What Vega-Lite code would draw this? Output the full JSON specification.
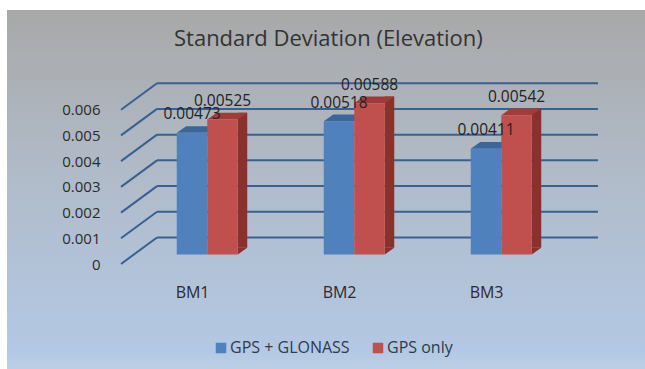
{
  "$schema": "https://vega.github.io/schema/vega-lite/v6.json",
  "width": 441,
  "height": 180,
  "autosize": "none",
  "padding": {"left": 121, "top": 84, "right": 83, "bottom": 105},
  "background": "#ffffff",
  "title": {
    "text": "Standard Deviation (Elevation)",
    "font": "Open Sans",
    "fontSize": 22,
    "fontWeight": "normal",
    "color": "#333333",
    "anchor": "start",
    "frame": "group",
    "dx": 53,
    "offset": -41,
    "zindex": 1
  },
  "datasets": {
    "bars": [
      {"site": "BM1", "series": "GPS + GLONASS", "sd": 0.00473},
      {"site": "BM1", "series": "GPS only", "sd": 0.00525},
      {"site": "BM2", "series": "GPS + GLONASS", "sd": 0.00518},
      {"site": "BM2", "series": "GPS only", "sd": 0.00588},
      {"site": "BM3", "series": "GPS + GLONASS", "sd": 0.00411},
      {"site": "BM3", "series": "GPS only", "sd": 0.00542}
    ],
    "levels": [
      {"level": 0},
      {"level": 0.001},
      {"level": 0.002},
      {"level": 0.003},
      {"level": 0.004},
      {"level": 0.005},
      {"level": 0.006}
    ]
  },
  "encoding": {
    "y": {
      "field": "sd", "type": "quantitative",
      "scale": {"domain": [0, 0.007]},
      "axis": {
        "values": [0, 0.001, 0.002, 0.003, 0.004, 0.005, 0.006],
        "format": "~g",
        "grid": false, "domain": false, "ticks": false,
        "title": null, "zindex": 1, "labelOverlap": false,
        "labelFont": "Open Sans", "labelFontSize": 15, "labelColor": "#2b2b2b", "labelPadding": 21
      }
    }
  },
  "layer": [
    {
      "data": {"values": [{"panel": 1}]},
      "mark": {
        "type": "rect",
        "color": {
          "gradient": "linear",
          "x1": 0, "y1": 0, "x2": 0, "y2": 1,
          "stops": [
            {"offset": 0, "color": "#a8a8a8"},
            {"offset": 0.45, "color": "#b0bbc8"},
            {"offset": 0.95, "color": "#b3c8e4"},
            {"offset": 1, "color": "#bccfe6"}
          ]
        }
      },
      "encoding": {
        "x": {"value": -114},
        "x2": {"value": 524},
        "y": {"value": -74},
        "y2": {"value": 285}
      }
    },
    {
      "data": {"name": "levels"},
      "mark": {"type": "rule", "color": "#3a6090", "strokeWidth": 2, "yOffset": -26.5, "y2Offset": -26.5},
      "encoding": {
        "x": {"value": 36},
        "x2": {"value": 477},
        "y": {
          "field": "level", "type": "quantitative",
          "axis": {
            "values": [0, 0.001, 0.002, 0.003, 0.004, 0.005, 0.006],
            "format": "~g",
            "grid": false, "domain": false, "ticks": false,
            "title": null, "zindex": 1, "labelOverlap": false,
            "labelFont": "Open Sans", "labelFontSize": 15, "labelColor": "#2b2b2b", "labelPadding": 21
          }
        }
      }
    },
    {
      "data": {"name": "levels"},
      "mark": {"type": "rule", "color": "#3a6090", "strokeWidth": 2, "y2Offset": -26.5},
      "encoding": {
        "x": {"value": 0},
        "x2": {"value": 36},
        "y": {
          "field": "level", "type": "quantitative",
          "axis": {
            "values": [0, 0.001, 0.002, 0.003, 0.004, 0.005, 0.006],
            "format": "~g",
            "grid": false, "domain": false, "ticks": false,
            "title": null, "zindex": 1, "labelOverlap": false,
            "labelFont": "Open Sans", "labelFontSize": 15, "labelColor": "#2b2b2b", "labelPadding": 21
          }
        },
        "y2": {"field": "level"}
      }
    },
    {
      "data": {"name": "bars"},
      "layer": [
        {
          "transform": [{"filter": "datum.series === 'GPS only'"}],
          "mark": {"type": "bar", "width": 9.5, "color": "#8a302d", "yOffset": -16.2, "y2Offset": -16.2},
          "encoding": {
            "x": {"field": "site", "type": "nominal"},
            "xOffset": {"value": 121.5},
            "y2": {"datum": 0}
          }
        },
        {
          "transform": [{"filter": "datum.series === 'GPS only'"}],
          "mark": {
            "type": "point", "filled": true, "opacity": 1, "size": 3721, "color": "#8a302d", "strokeWidth": 0,
            "shape": "M0.5,0 L0.81,-0.22 L0.5,-0.22 Z", "yOffset": -9.5
          },
          "encoding": {
            "x": {"field": "site", "type": "nominal"},
            "xOffset": {"field": "series"},
            "y": {
              "datum": 0, "type": "quantitative",
              "axis": {
                "values": [0, 0.001, 0.002, 0.003, 0.004, 0.005, 0.006],
                "format": "~g",
                "grid": false, "domain": false, "ticks": false,
                "title": null, "zindex": 1, "labelOverlap": false,
                "labelFont": "Open Sans", "labelFontSize": 15, "labelColor": "#2b2b2b", "labelPadding": 21
              }
            }
          }
        },
        {
          "mark": {
            "type": "point", "filled": true, "opacity": 1, "size": 3721, "strokeWidth": 0,
            "shape": "M-0.5,0 L0.5,0 L0.81,-0.22 L-0.19,-0.22 Z", "yOffset": -9.5
          },
          "encoding": {
            "x": {"field": "site", "type": "nominal"},
            "xOffset": {"field": "series"},
            "color": {
              "condition": {"test": "datum.series === 'GPS only'", "value": "#a13c38"},
              "value": "#3b6698"
            }
          }
        },
        {
          "mark": {"type": "bar", "width": 30.5, "yOffset": -9.5, "y2Offset": -9.5},
          "encoding": {
            "x": {
              "field": "site", "type": "nominal",
              "scale": {"paddingInner": 0, "paddingOuter": 0},
              "axis": {
                "title": null, "domain": false, "ticks": false, "grid": false, "labelAngle": 0, "zindex": 1,
                "labelFont": "Open Sans", "labelFontSize": 16, "labelColor": "#2b2b2b",
                "labelPadding": 28, "labelOffset": 15
              }
            },
            "xOffset": {"field": "series", "scale": {"type": "point", "range": [71, 101.5], "padding": 0}},
            "y2": {"datum": 0},
            "color": {
              "field": "series", "type": "nominal",
              "scale": {"domain": ["GPS + GLONASS", "GPS only"], "range": ["#4f81bd", "#c0504d"]},
              "legend": {
                "title": null, "orient": "none", "direction": "horizontal", "columns": 2,
                "legendX": 92, "legendY": 256, "zindex": 1,
                "symbolType": "square", "symbolSize": 110, "symbolStrokeWidth": 0, "symbolOpacity": 1,
                "labelFont": "Open Sans", "labelFontSize": 16, "labelColor": "#2f3b4a", "labelOffset": 1,
                "columnPadding": 20
              }
            }
          }
        },
        {
          "mark": {"type": "text", "font": "Open Sans", "fontSize": 15.5, "color": "#222222", "yOffset": -28},
          "encoding": {
            "x": {"field": "site", "type": "nominal"},
            "xOffset": {"field": "series"},
            "text": {"field": "sd", "type": "quantitative", "format": ".5f"}
          }
        }
      ]
    }
  ]
}
